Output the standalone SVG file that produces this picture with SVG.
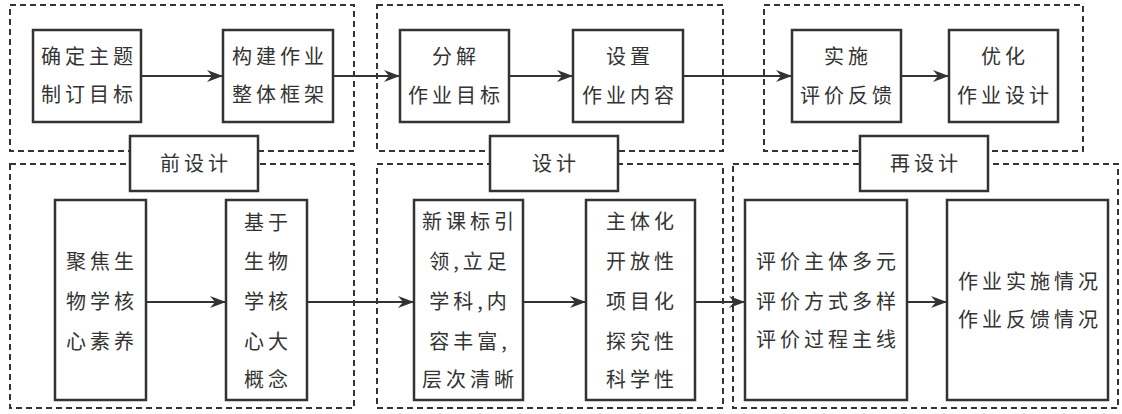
<svg xmlns="http://www.w3.org/2000/svg" width="1122" height="414" viewBox="0 0 1122 414">
<style>
.dash{fill:none;stroke:#333;stroke-width:2;stroke-dasharray:6 4}
.box{fill:#fff;stroke:#333;stroke-width:2.5}
.t{font-family:"Noto Sans CJK SC","Noto Sans CJK JP",sans-serif;font-size:20px;fill:#333;text-anchor:middle;letter-spacing:4px}
.c{stroke:#333;stroke-width:2;fill:none;marker-end:url(#ah)}
</style>
<defs>
<marker id="ah" viewBox="0 0 16 12" refX="16" refY="6" markerWidth="16" markerHeight="12" markerUnits="userSpaceOnUse" orient="auto">
<path d="M0,0 L16,6 L0,12 L5,6 z" fill="#333"/>
</marker>
</defs>
<rect width="1122" height="414" fill="#fff"/>
<g id="regions">
<rect class="dash" x="10" y="5" width="344" height="146"/>
<rect class="dash" x="377" y="5" width="346" height="146"/>
<rect class="dash" x="764" y="5" width="319" height="146"/>
<rect class="dash" x="10" y="164" width="344" height="244"/>
<rect class="dash" x="377" y="164" width="346" height="244"/>
<rect class="dash" x="733" y="164" width="385" height="244"/>
</g>
<g id="connectors">
<line class="c" x1="141" y1="76" x2="223" y2="76"/>
<line class="c" x1="333" y1="76" x2="400" y2="76"/>
<line class="c" x1="509" y1="76" x2="573" y2="76"/>
<line class="c" x1="683" y1="76" x2="792" y2="76"/>
<line class="c" x1="901" y1="76" x2="949" y2="76"/>
<line class="c" x1="146" y1="302" x2="226" y2="302"/>
<line class="c" x1="303" y1="302" x2="414" y2="302"/>
<line class="c" x1="523" y1="302" x2="586" y2="302"/>
<line class="c" x1="692" y1="302" x2="745" y2="302"/>
<line class="c" x1="907" y1="302" x2="947" y2="302"/>
</g>
<g id="n1"><rect class="box" x="33" y="30" width="108" height="92"/>
<text class="t" x="89" y="64">确定主题</text><text class="t" x="89" y="102">制订目标</text></g>
<g id="n2"><rect class="box" x="223" y="30" width="110" height="92"/>
<text class="t" x="280" y="64">构建作业</text><text class="t" x="280" y="102">整体框架</text></g>
<g id="n3"><rect class="box" x="400" y="30" width="109" height="92"/>
<text class="t" x="456" y="64">分解</text><text class="t" x="456" y="103">作业目标</text></g>
<g id="n4"><rect class="box" x="573" y="30" width="110" height="92"/>
<text class="t" x="630" y="64">设置</text><text class="t" x="630" y="103">作业内容</text></g>
<g id="n5"><rect class="box" x="792" y="30" width="109" height="92"/>
<text class="t" x="848" y="64">实施</text><text class="t" x="848" y="103">评价反馈</text></g>
<g id="n6"><rect class="box" x="949" y="30" width="109" height="92"/>
<text class="t" x="1005" y="64">优化</text><text class="t" x="1005" y="103">作业设计</text></g>
<g id="l1"><rect class="box" x="130" y="136" width="128" height="55"/>
<text class="t" x="196" y="171">前设计</text></g>
<g id="l2"><rect class="box" x="490" y="136" width="128" height="55"/>
<text class="t" x="556" y="171">设计</text></g>
<g id="l3"><rect class="box" x="860" y="136" width="128" height="55"/>
<text class="t" x="926" y="171">再设计</text></g>
<g id="b1"><rect class="box" x="55" y="200" width="91" height="200"/>
<text class="t" x="102" y="269">聚焦生</text><text class="t" x="102" y="309">物学核</text><text class="t" x="102" y="349">心素养</text></g>
<g id="b2"><rect class="box" x="226" y="200" width="81" height="200"/>
<text class="t" x="268" y="230">基于</text><text class="t" x="268" y="269">生物</text><text class="t" x="268" y="309">学核</text><text class="t" x="268" y="349">心大</text><text class="t" x="268" y="387">概念</text></g>
<g id="b3"><rect class="box" x="414" y="200" width="109" height="200"/>
<text class="t" x="470" y="229">新课标引</text><text class="t" x="470" y="269">领,立足</text><text class="t" x="470" y="309">学科,内</text><text class="t" x="470" y="349">容丰富,</text><text class="t" x="470" y="387">层次清晰</text></g>
<g id="b4"><rect class="box" x="586" y="200" width="109" height="200"/>
<text class="t" x="642" y="229">主体化</text><text class="t" x="642" y="269">开放性</text><text class="t" x="642" y="309">项目化</text><text class="t" x="642" y="349">探究性</text><text class="t" x="642" y="387">科学性</text></g>
<g id="b5"><rect class="box" x="745" y="200" width="162" height="200"/>
<text class="t" x="828" y="269">评价主体多元</text><text class="t" x="828" y="309">评价方式多样</text><text class="t" x="828" y="347">评价过程主线</text></g>
<g id="b6"><rect class="box" x="947" y="200" width="161" height="200"/>
<text class="t" x="1030" y="289">作业实施情况</text><text class="t" x="1030" y="327">作业反馈情况</text></g>
</svg>
